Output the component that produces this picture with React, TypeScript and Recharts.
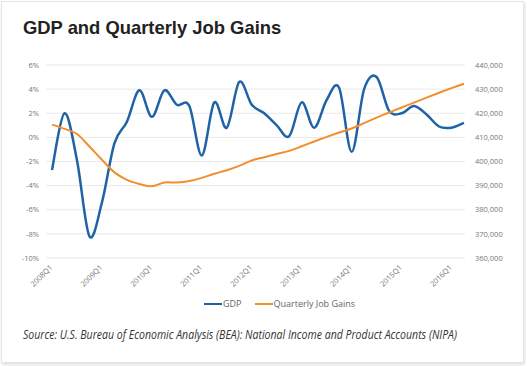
import React from 'react';
import { LineChart, Line, XAxis, YAxis, CartesianGrid } from 'recharts';

const quarters = [
  '2008Q1', '2008Q2', '2008Q3', '2008Q4',
  '2009Q1', '2009Q2', '2009Q3', '2009Q4',
  '2010Q1', '2010Q2', '2010Q3', '2010Q4',
  '2011Q1', '2011Q2', '2011Q3', '2011Q4',
  '2012Q1', '2012Q2', '2012Q3', '2012Q4',
  '2013Q1', '2013Q2', '2013Q3', '2013Q4',
  '2014Q1', '2014Q2', '2014Q3', '2014Q4',
  '2015Q1', '2015Q2', '2015Q3', '2015Q4',
  '2016Q1', '2016Q2',
];

// real GDP growth, percent (left axis)
const gdp = [
  -2.7, 2.0, -1.9, -8.2, -5.4, -0.5, 1.3, 3.9,
  1.7, 3.9, 2.7, 2.6, -1.5, 2.9, 0.8, 4.6,
  2.7, 2.0, 1.0, 0.1, 2.9, 0.8, 3.1, 4.1,
  -1.2, 4.0, 5.0, 2.2, 2.0, 2.6, 1.9, 0.9,
  0.8, 1.2,
];

// quarterly job gains (right axis)
const jobGains = [
  415300, 413500, 411400, 406200, 400700, 395500, 392400, 390700,
  389700, 391300, 391300, 391900, 393200, 394900, 396400, 398200,
  400400, 401800, 403100, 404400, 406300, 408300, 410200, 412000,
  413700, 415900, 418200, 420300, 422400, 424400, 426500, 428500,
  430400, 432200,
];

const pctTicks = [-10, -8, -6, -4, -2, 0, 2, 4, 6];
const jobTicks = [360000, 370000, 380000, 390000, 400000, 410000, 420000, 430000, 440000];

const data = quarters.map((q, i) => ({ q, gdp: gdp[i], jobs: jobGains[i] }));

const BLUE = '#1f63a6';
const ORANGE = '#f28f2c';
const FONT = '"Open Sans", "DejaVu Sans", sans-serif';

// Excel style smoothed line (catmull-rom like bezier)
const smoothCurve = (context: any) => {
  let pts: number[][] = [];
  return {
    areaStart() {},
    areaEnd() {},
    lineStart() { pts = []; },
    point(x: number, y: number) { pts.push([+x, +y]); },
    lineEnd() {
      const n = pts.length;
      if (!n) return;
      context.moveTo(pts[0][0], pts[0][1]);
      for (let i = 0; i < n - 1; i++) {
        const p0 = pts[Math.max(i - 1, 0)];
        const p1 = pts[i];
        const p2 = pts[i + 1];
        const p3 = pts[Math.min(i + 2, n - 1)];
        context.bezierCurveTo(
          p1[0] + (p2[0] - p0[0]) / 6, p1[1] + (p2[1] - p0[1]) / 6,
          p2[0] - (p3[0] - p1[0]) / 6, p2[1] - (p3[1] - p1[1]) / 6,
          p2[0], p2[1]
        );
      }
    },
  };
};

const XTick = ({ x, y, payload }: any) => (
  <text
    x={x + 1}
    y={y + 2}
    transform={`rotate(-45, ${x + 1}, ${y + 2})`}
    textAnchor="end"
    fontSize={7.5}
    fontFamily={FONT}
    fill="#777"
  >
    {payload.value}
  </text>
);

export default function App() {
  return (
    <div style={{ position: 'fixed', left: 0, top: 0, width: 527, height: 366, background: '#fff' }}>
      <div
        style={{
          position: 'absolute', left: 1, top: 1, width: 521, height: 360,
          background: '#fff', border: '1px solid #e4e4e4',
          boxShadow: '1px 2px 3px rgba(0,0,0,0.12)',
        }}
      />
      <div
        style={{
          position: 'absolute', left: 23, top: 17, fontFamily: '"Liberation Sans", Arial, sans-serif',
          fontWeight: 'bold', fontSize: 18.4, color: '#222', whiteSpace: 'nowrap',
        }}
      >
        GDP and Quarterly Job Gains
      </div>
      <div style={{ position: 'absolute', left: 0, top: 0 }}>
        <LineChart width={527} height={300} data={data} margin={{ top: 65, right: 0, left: 0, bottom: 12 }}>
          <CartesianGrid yAxisId="left" vertical={false} stroke="#e9e9e9" strokeWidth={1} />
          <XAxis
            dataKey="q"
            interval={3}
            height={30}
            axisLine={false}
            tickLine={false}
            padding={{ left: 6, right: 1 }}
            tick={<XTick />}
          />
          <YAxis
            yAxisId="left"
            orientation="left"
            width={46}
            domain={[-10, 6]}
            ticks={pctTicks}
            tickFormatter={(v: number) => `${v}%`}
            axisLine={false}
            tickLine={false}
            tickSize={5}
            tickMargin={2}
            tick={{ fontSize: 7.5, fill: '#777', fontFamily: FONT }}
          />
          <YAxis
            yAxisId="right"
            orientation="right"
            width={62}
            domain={[360000, 440000]}
            ticks={jobTicks}
            tickFormatter={(v: number) => v.toLocaleString('en-US')}
            axisLine={false}
            tickLine={false}
            tickSize={6}
            tickMargin={4}
            tick={{ fontSize: 7.5, fill: '#777', fontFamily: FONT, textAnchor: 'start' }}
          />
          <Line
            yAxisId="left"
            dataKey="gdp"
            name="GDP"
            type={smoothCurve as any}
            stroke={BLUE}
            strokeWidth={2.5}
            dot={false}
            isAnimationActive={false}
          />
          <Line
            yAxisId="right"
            dataKey="jobs"
            name="Quarterly Job Gains"
            type={smoothCurve as any}
            stroke={ORANGE}
            strokeWidth={2}
            dot={false}
            isAnimationActive={false}
          />
        </LineChart>
      </div>
      <div
        style={{
          position: 'absolute', left: 204, top: 297, display: 'flex', alignItems: 'center',
          fontFamily: FONT, fontSize: 9, color: '#666', whiteSpace: 'nowrap',
        }}
      >
        <span style={{ display: 'inline-block', width: 18, height: 2, background: BLUE }} />
        <span style={{ marginLeft: 1 }}>GDP</span>
        <span style={{ display: 'inline-block', width: 18, height: 2, background: ORANGE, marginLeft: 13 }} />
        <span style={{ marginLeft: 1 }}>Quarterly Job Gains</span>
      </div>
      <svg style={{ position: 'absolute', left: 0, top: 0 }} width={527} height={366}>
        <text
          x={23}
          y={339}
          fontFamily={FONT}
          fontStyle="italic"
          fontSize={12}
          fill="#333"
          textLength={434}
          lengthAdjust="spacingAndGlyphs"
        >
          Source: U.S. Bureau of Economic Analysis (BEA): National Income and Product Accounts (NIPA)
        </text>
      </svg>
    </div>
  );
}
